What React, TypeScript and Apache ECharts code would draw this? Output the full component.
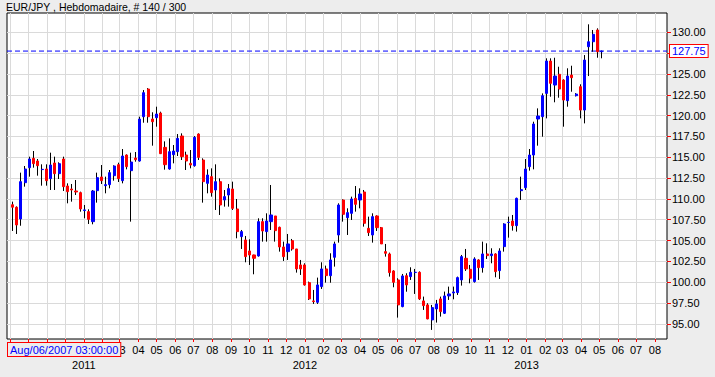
import { useEffect, useRef } from "react";
import * as echarts from "echarts";

const titleText = "EUR/JPY , Hebdomadaire, # 140 / 300";
const cursorLabel = "Aug/06/2007 03:00:00";
const lastPrice = 127.75;

// weekly bars, first bar dated Sep 5 2010
const firstBar = Date.UTC(2010, 8, 5);
const weekMs = 7 * 86400000;
const axisStart = Date.UTC(2010, 7, 27);
const axisEnd = Date.UTC(2013, 7, 21);
// month labels before this date are hidden behind the cursor label box
const firstVisibleMonthLabel = Date.UTC(2011, 2, 1);

const opens = [
  109.3, 109.0, 107.59, 111.95, 113.75, 114.87, 114.55, 113.52, 113.59, 112.43,
  114.31, 113.03, 114.79, 111.55, 111.19, 110.95, 110.75, 108.6, 108.47, 107.27,
  110.99, 112.63, 111.59, 111.71, 112.79, 114.11, 112.19, 115.27, 113.39, 114.91,
  114.55, 119.87, 123.19, 119.59, 119.75, 120.31, 116.19, 113.59, 115.31, 115.67,
  117.55, 115.27, 114.27, 113.99, 117.79, 114.67, 111.87, 112.67, 111.07, 112.07,
  109.87, 110.47, 111.19, 108.79, 105.47, 105.07, 103.75, 103.27, 103.15, 107.27,
  106.07, 107.27, 107.95, 106.59, 104.23, 103.67, 104.99, 103.99, 102.07, 102.07,
  99.95, 97.75, 97.59, 99.47, 101.59, 100.78, 102.99, 105.67, 109.87, 107.75,
  108.27, 110.07, 109.87, 110.83, 106.47, 105.67, 107.95, 106.55, 103.67, 103.39,
  101.35, 100.27, 97.07, 100.78, 100.67, 101.17, 101.19, 97.75, 97.27, 95.47,
  96.79, 97.99, 96.27, 98.35, 98.71, 98.75, 100.27, 102.87, 101.55, 100.07,
  102.67, 101.75, 103.39, 103.19, 103.39, 101.39, 104.27, 107.17, 107.35, 106.79,
  110.99, 111.35, 113.87, 115.27, 119.59, 119.87, 122.67, 126.55, 123.67, 124.96,
  124.27, 121.79, 124.87, 122.39, 123.47, 120.67, 128.27, 128.87, 130.28, 127.67,
];
const closes = [
  109.0, 106.87, 112.07, 113.59, 114.79, 114.23, 113.99, 113.55, 112.19, 114.07,
  113.03, 114.23, 111.47, 110.87, 111.07, 110.83, 108.79, 108.68, 107.55, 110.95,
  112.55, 112.19, 111.71, 113.15, 113.95, 112.43, 115.15, 113.87, 114.43, 114.71,
  119.58, 122.75, 119.87, 119.27, 120.19, 115.43, 114.11, 115.67, 115.75, 117.27,
  115.07, 114.55, 114.07, 117.39, 114.99, 112.07, 112.87, 110.75, 112.07, 109.27,
  110.27, 111.23, 108.87, 106.07, 106.07, 103.07, 103.27, 102.87, 107.27, 106.15,
  107.35, 108.07, 106.19, 104.23, 103.07, 104.59, 103.99, 101.59, 101.59, 99.67,
  97.99, 97.67, 99.67, 101.59, 100.79, 102.67, 104.59, 109.27, 108.15, 108.35,
  109.99, 109.35, 110.59, 107.07, 105.95, 107.87, 106.55, 104.59, 103.47, 101.15,
  99.99, 97.27, 100.75, 99.67, 101.19, 101.19, 97.99, 97.19, 95.59, 96.95,
  97.39, 96.47, 98.35, 98.59, 98.83, 100.55, 103.07, 101.59, 100.47, 102.79,
  101.75, 103.39, 103.19, 103.39, 101.27, 103.75, 106.99, 107.19, 106.79, 110.07,
  111.11, 113.59, 115.27, 118.99, 119.95, 122.39, 126.55, 123.88, 124.75, 123.19,
  121.87, 124.75, 124.55, 122.59, 120.67, 126.67, 128.87, 129.76, 127.67, 127.75,
];
const lows = [
  106.15, 105.79, 106.78, 111.47, 112.67, 113.75, 112.79, 111.59, 111.59, 111.07,
  111.07, 112.39, 110.95, 109.47, 109.67, 110.47, 108.47, 107.67, 106.99, 106.95,
  109.55, 111.79, 110.67, 111.27, 112.19, 112.03, 111.87, 113.55, 107.27, 114.47,
  114.47, 119.15, 119.15, 116.39, 118.67, 115.39, 113.51, 113.51, 114.27, 115.15,
  114.67, 113.47, 113.67, 113.87, 114.67, 109.55, 110.67, 110.27, 108.67, 108.07,
  109.07, 109.07, 108.67, 105.27, 103.99, 102.39, 102.07, 100.95, 103.07, 104.87,
  104.87, 106.27, 104.87, 103.67, 102.55, 102.67, 103.79, 101.15, 100.87, 99.59,
  97.87, 97.39, 97.39, 99.19, 99.95, 99.94, 101.87, 104.75, 107.27, 105.67,
  107.47, 108.47, 108.87, 106.67, 105.55, 104.75, 106.15, 104.59, 103.07, 100.67,
  99.39, 95.75, 96.99, 98.86, 100.27, 98.59, 97.87, 96.67, 95.55, 94.27,
  95.15, 95.87, 96.19, 97.87, 97.95, 98.47, 99.59, 101.35, 99.87, 99.95,
  100.27, 101.15, 102.79, 102.27, 100.59, 100.39, 103.67, 105.35, 106.19, 106.07,
  109.87, 111.07, 113.39, 113.55, 116.39, 117.47, 119.67, 122.27, 121.6, 122.15,
  118.67, 121.07, 122.87, 122.3, 119.67, 119.07, 124.75, 127.67, 126.95, 126.88,
];
const highs = [
  109.67, 109.1, 113.15, 113.95, 115.07, 115.75, 114.79, 114.15, 114.15, 115.55,
  115.07, 114.39, 115.07, 111.87, 111.79, 112.27, 110.87, 109.27, 108.75, 111.07,
  113.15, 114.07, 112.67, 113.47, 114.03, 114.35, 115.99, 115.35, 115.55, 115.63,
  119.87, 123.07, 123.3, 120.4, 121.07, 120.47, 116.91, 117.27, 116.47, 117.79,
  117.87, 115.67, 115.87, 117.55, 117.87, 114.87, 113.55, 113.67, 114.15, 112.47,
  111.07, 111.79, 112.07, 109.99, 106.27, 105.55, 105.15, 103.3, 107.67, 107.67,
  108.27, 111.67, 107.95, 106.67, 104.87, 105.79, 105.19, 103.99, 102.67, 102.27,
  100.07, 99.07, 100.55, 102.39, 101.99, 103.47, 104.87, 109.47, 109.95, 108.87,
  110.27, 111.55, 111.27, 111.07, 107.87, 108.27, 108.03, 106.63, 104.59, 103.55,
  101.43, 100.47, 100.99, 101.07, 101.79, 101.59, 101.3, 98.27, 97.47, 97.27,
  97.87, 98.27, 98.87, 99.47, 99.47, 100.67, 103.27, 103.99, 102.07, 102.99,
  102.75, 104.87, 104.67, 104.07, 103.47, 104.07, 107.07, 107.87, 108.07, 110.15,
  112.67, 114.79, 115.99, 119.27, 120.87, 122.67, 126.88, 126.88, 126.95, 125.87,
  124.36, 125.68, 125.99, 122.7, 123.76, 127.27, 130.96, 130.28, 130.48, 127.8,
];

const yTickValues = [95, 97.5, 100, 102.5, 105, 107.5, 110, 112.5, 115, 117.5, 120, 122.5, 125, 127.5, 130];
const yLabelValues = [95, 97.5, 100, 102.5, 105, 107.5, 110, 112.5, 115, 117.5, 120, 122.5, 125, 130];
const yearLabels = [2011, 2012, 2013];

const monthTicks: number[] = [];
for (let y = 2010; y <= 2013; y++) {
  for (let m = 0; m < 12; m++) {
    const t = Date.UTC(y, m, 1);
    if (t >= axisStart && t <= axisEnd) monthTicks.push(t);
  }
}
const monthLabelTicks = monthTicks.filter((t) => t >= firstVisibleMonthLabel);
const yearTicks = yearLabels.map((y) => Date.UTC(y, 0, 1));

const FONT = "Liberation Sans";

export default function App() {
  const ref = useRef<HTMLDivElement>(null);
  useEffect(() => {
    if (!ref.current) return;
    const chart = echarts.init(ref.current, null, { renderer: "svg" });
    const times = opens.map((_, i) => firstBar + i * weekMs);
    const wickData = opens.map((o, i) => [times[i], o, closes[i], lows[i], highs[i]]);
    const bodyData = opens.map((o, i) => [
      times[i],
      o,
      closes[i],
      Math.min(o, closes[i]),
      Math.max(o, closes[i]),
    ]);
    chart.setOption({
      animation: false,
      backgroundColor: "#ededed",
      textStyle: { fontFamily: FONT },
      title: {
        text: titleText,
        left: 6,
        top: 1,
        padding: 0,
        textStyle: { fontSize: 10.5, fontWeight: "normal", color: "#000", fontFamily: FONT },
      },
      grid: {
        left: 7,
        top: 13,
        right: 48,
        bottom: 38,
        show: true,
        backgroundColor: "#ffffff",
        borderColor: "#000000",
        borderWidth: 1,
        containLabel: false,
        outerBoundsMode: "none",
      },
      xAxis: [
        {
          type: "value",
          min: axisStart,
          max: axisEnd,
          position: "bottom",
          axisLine: { show: false },
          axisTick: { show: true, length: 3, lineStyle: { color: "#ff0000" }, customValues: monthTicks },
          splitLine: { show: true, lineStyle: { color: "#dadada", width: 1 } },
          axisLabel: {
            customValues: monthLabelTicks,
            margin: 5,
            fontSize: 11,
            color: "#000",
            fontFamily: FONT,
            hideOverlap: false,
            formatter: (v: number) => String(new Date(v).getUTCMonth() + 1).padStart(2, "0"),
          },
        },
        {
          type: "value",
          min: axisStart,
          max: axisEnd,
          position: "bottom",
          axisLine: { show: false },
          axisTick: { show: false },
          splitLine: { show: false },
          axisLabel: {
            customValues: yearTicks,
            margin: 20,
            fontSize: 11,
            color: "#000",
            fontFamily: FONT,
            formatter: (v: number) => String(new Date(v).getUTCFullYear()),
          },
        },
      ],
      yAxis: {
        type: "value",
        position: "right",
        min: 93.18,
        max: 132.32,
        axisLine: { show: false },
        axisTick: { show: true, length: 4, lineStyle: { color: "#ff0000" }, customValues: yTickValues },
        splitLine: { show: true, lineStyle: { color: "#dadada", width: 1 } },
        axisLabel: {
          customValues: yLabelValues,
          margin: 5,
          fontSize: 11,
          color: "#000",
          fontFamily: FONT,
          formatter: (v: number) => v.toFixed(2),
        },
      },
      graphic: [
        {
          type: "text",
          left: 7,
          top: 342,
          z: 100,
          style: {
            text: cursorLabel,
            fill: "#0000ff",
            font: `11px "${FONT}"`,
            backgroundColor: "#ededed",
            borderColor: "#ff0000",
            borderWidth: 1,
            padding: [1, 2, 1, 2],
          },
        },
      ],
      series: [
        {
          type: "line",
          xAxisIndex: 0,
          silent: true,
          symbol: "none",
          z: 1,
          data: [
            [axisStart, lastPrice],
            [axisEnd, lastPrice],
          ],
          lineStyle: { color: "#0000ff", type: [5, 3], width: 1 },
          itemStyle: { color: "#0000ff" },
          endLabel: {
            show: true,
            distance: 3,
            formatter: () => lastPrice.toFixed(2),
            color: "#0000ff",
            fontSize: 11,
            fontFamily: FONT,
            backgroundColor: "#ffffff",
            borderColor: "#ff0000",
            borderWidth: 1,
            padding: [1, 2, 0, 2],
          },
        },
        {
          type: "candlestick",
          xAxisIndex: 0,
          silent: true,
          barWidth: 1,
          z: 2,
          encode: { x: 0, y: [1, 2, 3, 4] },
          data: wickData,
          itemStyle: {
            color: "#000",
            color0: "#000",
            borderColor: "#000",
            borderColor0: "#000",
            borderColorDoji: "#000",
            borderWidth: 1,
          },
        },
        {
          type: "candlestick",
          xAxisIndex: 0,
          silent: true,
          barWidth: 2.6,
          z: 3,
          encode: { x: 0, y: [1, 2, 3, 4] },
          data: bodyData,
          itemStyle: {
            color: "#0000ff",
            color0: "#ff0000",
            borderColor: "#0000ff",
            borderColor0: "#ff0000",
            borderColorDoji: "#000",
            borderWidth: 1,
          },
        },
      ],
    });
    return () => chart.dispose();
  }, []);
  return (
    <div
      ref={ref}
      style={{ position: "fixed", left: 0, top: 0, width: 715, height: 377 }}
    />
  );
}
